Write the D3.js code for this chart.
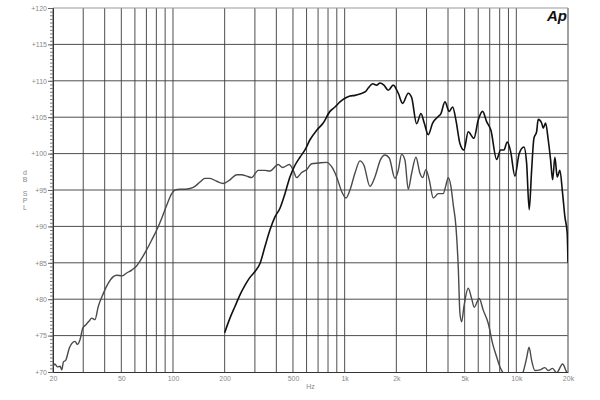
<!DOCTYPE html>
<html>
<head>
<meta charset="utf-8">
<script src="https://cdn.jsdelivr.net/npm/d3@7"></script>
<style>
  body { margin: 0; background: #fff; }
  svg { display: block; }
  text { font-family: "Liberation Sans", Arial, sans-serif; }
</style>
</head>
<body>
<div id="chart"></div>
<script>
// Frequency response, two drivers (Audio Precision style plot)

// Woofer (gray curve)
let wooferHz = [20, 20.5, 21.2, 22, 22.5, 23, 23.7, 24.9, 25.7, 26.9, 27.7, 28.7, 29.8, 31.1, 32.5, 33.6, 35.1, 36.7,
  39.3, 42, 44.9, 47, 50.3, 53.7, 57.5, 61.5, 65.7, 70.3, 75.1, 80.4, 85.9, 91.9, 98.3, 102.7, 109.8, 117.4, 125.6,
  134.3, 143.6, 153.6, 164.2, 179.7, 196.3, 214.7, 235, 251, 269, 287, 314, 343, 367, 410, 435, 476, 502, 525, 562,
  601, 642, 702, 786, 840, 898, 961, 1018, 1074, 1148, 1228, 1295, 1404, 1501, 1620, 1716, 1819, 1963, 2052, 2147,
  2245, 2346, 2456, 2602, 2745, 2846, 2975, 3110, 3281, 3508, 3752, 3875, 4012, 4159, 4290, 4448, 4588, 4693, 4802,
  4952, 5246, 5492, 5686, 6080, 6414, 6860, 7278, 7678, 8026, 8322, 9174, 10400, 10960, 11500, 11860, 12280, 12830,
  13725, 14675, 15338, 16270, 17166, 18606, 19446, 20000]
let wooferDb = [70.7, 71.1, 70.7, 70.8, 70.3, 71.4, 71.6, 73.3, 73.9, 74.2, 73.8, 74.4, 76.0, 76.5, 77.0, 77.4, 77.2, 79.0,
  80.8, 82.2, 83.1, 83.3, 83.2, 83.6, 84.0, 84.6, 85.6, 86.8, 88.1, 89.5, 91.1, 92.9, 94.5, 95.0, 95.1, 95.1, 95.2,
  95.5, 96.1, 96.6, 96.6, 96.2, 95.9, 96.4, 97.1, 97.1, 96.9, 96.7, 97.7, 97.7, 97.6, 98.5, 98.1, 98.5, 97.7, 96.7, 97.4,
  97.8, 98.6, 98.7, 98.8, 98.2, 96.8, 94.8, 93.9, 95.0, 97.3, 99.0, 98.4, 95.5, 96.8, 99.2, 99.8, 99.4, 96.6, 97.7, 99.9,
  99.1, 95.1, 97.3, 99.5, 97.3, 96.7, 97.8, 96.4, 93.9, 94.5, 94.5, 95.5, 96.7, 95.5, 93.0, 90.0, 84.5, 78.1, 76.9,
  79.0, 81.5, 80.1, 78.9, 80.1, 78.5, 76.7, 73.9, 72.1, 70.7, 70.0, 68.5, 68.8, 70.0, 72.0, 73.4, 71.6, 70.2,
  70.3, 70.6, 70.2, 70.5, 69.9, 71.1, 70.2, 69.5]

// Tweeter (black curve)
let tweeterHz = [200, 214.7, 229.6, 245.6, 262.5, 280.8, 300.3, 321.2, 343, 367, 392.7, 420, 449, 480, 513.5, 549, 587,
  628, 687, 750, 821, 878, 939, 1004, 1074, 1148, 1228, 1321, 1372, 1456, 1536, 1605, 1694, 1794, 1919, 2052, 2176,
  2346, 2456, 2626, 2782, 2908, 3069, 3254, 3508, 3638, 3838, 4066, 4257, 4448, 4693, 4952, 5246, 5662, 5998, 6362,
  6714, 7112, 7678, 8104, 8468, 8850, 9262, 9812, 10394, 11070, 11480, 11886, 12277, 12660, 13126, 13410, 14040,
  14344, 14810, 15338, 15840, 16270, 16778, 17304, 17940, 18606, 19188, 19784, 20000]
let tweeterDb = [75.4, 77.4, 79.0, 80.6, 81.9, 83.0, 83.8, 84.9, 87.2, 89.5, 91.3, 92.5, 94.5, 96.8, 98.4, 99.5, 100.5,
  101.9, 103.2, 104.2, 105.8, 106.4, 107.1, 107.6, 107.9, 108.0, 108.2, 108.5, 109.0, 109.6, 109.4, 109.7, 109.4, 108.7,
  109.4, 108.3, 106.9, 108.3, 107.7, 104.1, 105.5, 104.2, 102.6, 104.2, 105.1, 105.5, 107.1, 105.8, 106.4, 104.6, 101.4,
  100.5, 103.0, 102.1, 104.6, 105.8, 104.4, 103.2, 99.2, 100.5, 100.5, 101.6, 100.3, 96.9, 100.0, 100.9, 98.7, 92.3,
  97.7, 102.1, 103.0, 104.7, 104.2, 103.5, 104.2, 101.9, 99.1, 96.4, 99.5, 96.8, 97.7, 94.5, 91.3, 89.1, 85.0]

// Axis ticks
let freqGrid = [20, 30, 40, 50, 60, 70, 80, 90, 100, 200, 300, 400, 500, 600, 700, 800, 900,
  1000, 2000, 3000, 4000, 5000, 6000, 7000, 8000, 9000, 10000, 20000]
let freqTicks = [20, 50, 100, 200, 500, 1000, 2000, 5000, 10000, 20000]
let freqLabels = ["20", "50", "100", "200", "500", "1k", "2k", "5k", "10k", "20k"]
let dbTicks = [70, 75, 80, 85, 90, 95, 100, 105, 110, 115, 120]
let yTitle = ["d", "B", "", "S", "P", "L"]

let width = 600, height = 400
let plotL = 53, plotR = 568, plotT = 8, plotB = 372

let svg = d3.select("#chart").append("svg")
    .attr("width", width)
    .attr("height", height)

let x = d3.scaleLog().domain([20, 20000]).range([plotL, plotR])
let y = d3.scaleLinear().domain([70, 120]).range([plotB, plotT])

svg.append("clipPath").attr("id", "plot")
  .append("rect")
    .attr("x", plotL).attr("y", plotT)
    .attr("width", plotR - plotL).attr("height", plotB - plotT)

// Grid
svg.append("g").selectAll("line").data(freqGrid).enter().append("line")
    .attr("x1", d => x(d)).attr("x2", d => x(d))
    .attr("y1", plotT).attr("y2", plotB)
    .attr("stroke", "#3a3a3a")
    .attr("stroke-width", 0.9)

svg.append("g").selectAll("line").data(dbTicks.slice(1, -1)).enter().append("line")
    .attr("x1", plotL).attr("x2", plotR)
    .attr("y1", d => y(d)).attr("y2", d => y(d))
    .attr("stroke", "#3a3a3a")
    .attr("stroke-width", 0.9)

// Frame: top/right lighter
svg.append("line").attr("x1", plotL).attr("x2", plotR).attr("y1", plotT).attr("y2", plotT)
    .attr("stroke", "#999")
svg.append("line").attr("x1", plotR).attr("x2", plotR).attr("y1", plotT).attr("y2", plotB)
    .attr("stroke", "#999")

// Left axis: minor ticks every 0.5 dB, labels every 5
let axisMinor = d3.axisLeft(y).tickValues(d3.range(70, 120.01, 0.5)).tickSize(3).tickFormat("")
svg.append("g")
    .attr("transform", `translate(${plotL},0)`)
    .call(axisMinor)
    .call(g => g.selectAll("line").attr("stroke", "#777"))
    .call(g => g.select(".domain").attr("stroke", "#333"))

let axisY = d3.axisLeft(y).tickValues(dbTicks).tickSize(5).tickPadding(1).tickFormat(d => "+" + d)
svg.append("g")
    .attr("transform", `translate(${plotL},0)`)
    .call(axisY)
    .call(g => g.select(".domain").remove())
    .call(g => g.selectAll("line").attr("stroke", "#666"))
    .call(g => g.selectAll("text").attr("fill", "#888").attr("font-size", 7))

// Bottom axis
let axisX = d3.axisBottom(x).tickValues(freqTicks).tickSize(0).tickPadding(4)
    .tickFormat((d, i) => freqLabels[i])
svg.append("g")
    .attr("transform", `translate(0,${plotB})`)
    .call(axisX)
    .call(g => g.select(".domain").attr("stroke", "#333"))
    .call(g => g.selectAll("text").attr("fill", "#888").attr("font-size", 7))

svg.append("text")
    .attr("x", (plotL + plotR) / 2)
    .attr("y", 389)
    .attr("text-anchor", "middle")
    .attr("font-size", 7)
    .attr("fill", "#888")
    .text("Hz")

svg.append("g").selectAll("text").data(yTitle).enter().append("text")
    .attr("x", 25)
    .attr("y", (d, i) => 175 + i * 7)
    .attr("text-anchor", "middle")
    .attr("font-size", 7)
    .attr("fill", "#888")
    .text(d => d)

// Ap logo
svg.append("text")
    .attr("x", 567)
    .attr("y", 21)
    .attr("text-anchor", "end")
    .attr("font-size", 15)
    .attr("font-weight", "bold")
    .attr("font-style", "italic")
    .attr("fill", "#111")
    .text("Ap")

// Curves
let line = d3.line()
    .x(d => x(d[0]))
    .y(d => y(d[1]))
    .curve(d3.curveMonotoneX)

let plot = svg.append("g").attr("clip-path", "url(#plot)")

plot.append("path")
    .datum(d3.zip(wooferHz, wooferDb))
    .attr("d", line)
    .attr("fill", "none")
    .attr("stroke", "#4a4a4a")
    .attr("stroke-width", 1.4)

plot.append("path")
    .datum(d3.zip(tweeterHz, tweeterDb))
    .attr("d", line)
    .attr("fill", "none")
    .attr("stroke", "#111")
    .attr("stroke-width", 1.6)
</script>
</body>
</html>
